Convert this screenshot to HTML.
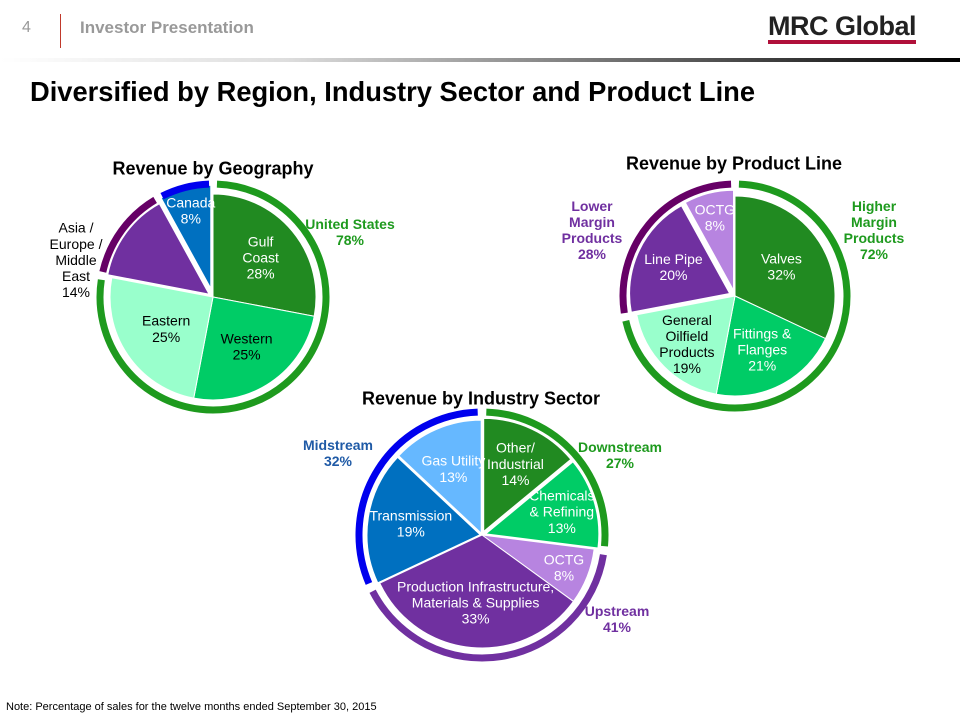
<!DOCTYPE html>
<html><head><meta charset="utf-8"><style>
body{margin:0;width:960px;height:720px;background:#fff;font-family:"Liberation Sans",sans-serif;overflow:hidden;position:relative}
.abs{position:absolute}
</style></head><body>
<div class="abs" style="left:22px;top:19px;font-size:16px;color:#999">4</div>
<div class="abs" style="left:60px;top:14px;width:1px;height:34px;background:#c0392b"></div>
<div class="abs" style="left:80px;top:18px;font-size:17px;font-weight:bold;color:#999">Investor Presentation</div>
<div class="abs" style="left:768px;top:12px;font-size:27px;font-weight:bold;color:#222;letter-spacing:-0.5px;border-bottom:4px solid #b0103a;line-height:28px">MRC Global</div>
<div class="abs" style="left:0;top:58px;width:960px;height:4px;background:linear-gradient(90deg,#fff,#ddd 30%,#000)"></div>
<div class="abs" style="left:30px;top:76px;font-size:27.3px;font-weight:bold;color:#000">Diversified by Region, Industry Sector and Product Line</div>
<div class="abs" style="left:6px;top:701px;font-size:11px;color:#000">Note: Percentage of sales for the twelve months ended September 30, 2015</div>
<svg id="chart" class="abs" style="left:0;top:0" width="960" height="720"></svg>
<script>
// Geography
const geoCats=["Gulf\nCoast","Western","Eastern","Asia /\nEurope /\nMiddle\nEast","Canada"];
const geoVals=[28,25,25,14,8];
const geoGroupVals=[78,14,8];
// Product
const prodCats=["Valves","Fittings &\nFlanges","General\nOilfield\nProducts","Line Pipe","OCTG"];
const prodVals=[32,21,19,20,8];
const prodGroupVals=[72,28];
// Industry
const indCats=["Other/\nIndustrial","Chemicals\n& Refining","OCTG","Production Infrastructure,\nMaterials & Supplies","Transmission","Gas Utility"];
const indVals=[14,13,8,33,19,13];
const indGroupVals=[27,41,32];

const svg=document.getElementById('chart');
const NS='http://www.w3.org/2000/svg';
function pt(cx,cy,r,a){return [cx+r*Math.sin(a),cy-r*Math.cos(a)];}
function angleOf(frac){return frac*2*Math.PI;}
function slicePath(cx,cy,r,a0,a1){const p0=pt(cx,cy,r,a0),p1=pt(cx,cy,r,a1);const lg=(a1-a0)>Math.PI?1:0;
 return `M${cx},${cy}L${p0[0]},${p0[1]}A${r},${r} 0 ${lg} 1 ${p1[0]},${p1[1]}Z`;}
function arcPath(cx,cy,r,a0,a1){const p0=pt(cx,cy,r,a0),p1=pt(cx,cy,r,a1);const lg=(a1-a0)>Math.PI?1:0;
 return `M${p0[0]},${p0[1]}A${r},${r} 0 ${lg} 1 ${p1[0]},${p1[1]}`;}
function txt(x,y,s,opt){const t=document.createElementNS(NS,'text');
 
 
 t.setAttribute('x',x);t.setAttribute('text-anchor','middle');t.setAttribute('font-size',opt.size||14);
 t.setAttribute('fill',opt.fill||'#000');if(opt.bold)t.setAttribute('font-weight','bold');
 t.setAttribute('font-family','Liberation Sans, sans-serif');
 const lines=s.split('\n');const lh=(opt.size||14)*1.15;const y0=y-(lines.length-1)*lh/2+ (opt.size||14)*0.35;
 lines.forEach((l,i)=>{const ts=document.createElementNS(NS,'tspan');ts.setAttribute('x',x);ts.setAttribute('y',y0+i*lh);ts.textContent=l;t.appendChild(ts);});
 svg.appendChild(t);}
function pie(cfg){
 const tot=cfg.vals.reduce((a,b)=>a+b,0);let acc=0;
 cfg.vals.forEach((v,i)=>{const a0=angleOf(acc/tot),a1=angleOf((acc+v)/tot);acc+=v;const am=(a0+a1)/2;
  const off=cfg.explode[i]||0;const cx=cfg.cx+off*Math.sin(am),cy=cfg.cy-off*Math.cos(am);
  const p=document.createElementNS(NS,'path');
  
  
  p.setAttribute('d',slicePath(cx,cy,cfg.r,a0,a1));p.setAttribute('fill',cfg.colors[i]);
  p.setAttribute('stroke','#fff');p.setAttribute('stroke-width',cfg.sw||1);
  svg.appendChild(p);
  let lp=pt(cx,cy,cfg.r*(cfg.lr[i]||0.55),am);
  if(cfg.fixed&&cfg.fixed[i])lp=cfg.fixed[i];
  txt(lp[0],lp[1],cfg.cats[i]+'\n'+v+'%',{name:cfg.prefix+'-label-'+i,fill:cfg.lcol[i],size:14});
 });
 let g=0;const gt=cfg.gvals.reduce((a,b)=>a+b,0);
 cfg.gvals.forEach((v,i)=>{const gap=0.035;const a0=angleOf(g/gt)+gap,a1=angleOf((g+v)/gt)-gap;g+=v;
  const p=document.createElementNS(NS,'path');
  
  
  p.setAttribute('d',arcPath(cfg.cx,cfg.cy,cfg.rr,a0,a1));p.setAttribute('fill','none');
  p.setAttribute('stroke',cfg.gcol[i]);p.setAttribute('stroke-width',7);svg.appendChild(p);});
}
pie({prefix:'geography',cx:213,cy:297,r:103,rr:113,vals:geoVals,cats:geoCats,explode:[0,0,0,5,9],
 colors:['#218a21','#00cc66','#99ffcc','#7030a0','#0070c0'],lcol:['#fff','#000','#000','#000','#fff'],
 lr:[0.6,0.58,0.55,1.5,0.78],fixed:[null,null,null,[76,260],null],gvals:geoGroupVals,gcol:['#1e9a1e','#660066','#0000ee'],sw:1});
pie({prefix:'product',cx:735,cy:296,r:100,rr:112,vals:prodVals,cats:prodCats,explode:[0,0,0,6,6],
 colors:['#218a21','#00cc66','#99ffcc','#7030a0','#b784e0'],lcol:['#fff','#fff','#000','#fff','#fff'],
 lr:[0.55,0.6,0.68,0.62,0.75],gvals:prodGroupVals,gcol:['#1e9a1e','#660066']});
pie({prefix:'industry',cx:482,cy:535,r:113,rr:123,vals:indVals,cats:indCats,explode:[4,4,0,0,2,2],
 colors:['#218a21','#00cc66','#b784e0','#7030a0','#0070c0','#66b8ff'],lcol:['#fff','#fff','#fff','#fff','#fff','#fff'],
 lr:[0.66,0.7,0.78,0.6,0.62,0.62],gvals:indGroupVals,gcol:['#1e9a1e','#7030a0','#0000ee']});
txt(213,168,'Revenue by Geography',{name:'geography-title',size:18,bold:true});
txt(734,163,'Revenue by Product Line',{name:'product-title',size:18,bold:true});
txt(481,398,'Revenue by Industry Sector',{name:'industry-title',size:18,bold:true});
txt(350,232,'United States\n78%',{name:'us-group-label',size:14,bold:true,fill:'#1e9a1e'});
txt(592,230,'Lower\nMargin\nProducts\n28%',{name:'lower-margin-label',size:14,bold:true,fill:'#7030a0'});
txt(874,230,'Higher\nMargin\nProducts\n72%',{name:'higher-margin-label',size:14,bold:true,fill:'#1e9a1e'});
txt(338,453,'Midstream\n32%',{name:'midstream-label',size:14,bold:true,fill:'#1f5aa6'});
txt(620,455,'Downstream\n27%',{name:'downstream-label',size:14,bold:true,fill:'#1e9a1e'});
txt(617,619,'Upstream\n41%',{name:'upstream-label',size:14,bold:true,fill:'#7030a0'});
</script>
</body></html>
